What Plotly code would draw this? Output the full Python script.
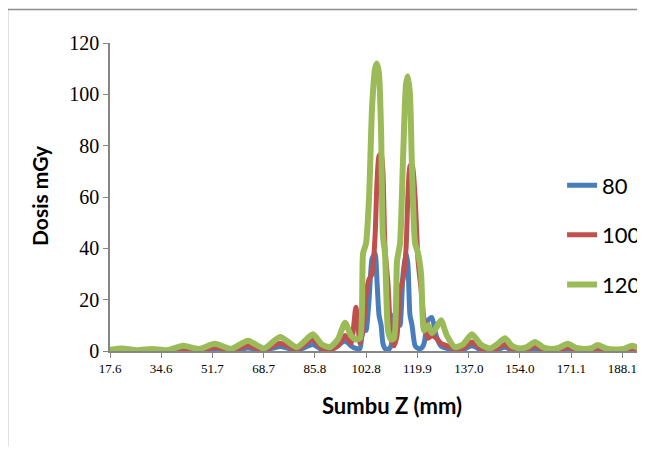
import plotly.graph_objects as go

# Sumbu Z positions (mm)
z_mm = [17.6, 21.6, 26.6, 31.6, 36.6, 41.9, 47.2, 52.5, 57.9, 63.5, 68.8, 74.2, 79.8, 85.1,
        88.1, 90.8, 93.4, 95.8, 97.8, 99.4, 100.8, 101.8, 102.8, 103.8, 104.8, 105.8, 106.4,
        107.1, 107.8, 108.4, 109.1, 110.1, 111.1, 112.1, 113.1, 114.1, 115.1, 116.1, 116.7,
        117.4, 118.1, 119.1, 120.1, 121.1, 122.1, 123.4, 124.7, 126.1, 127.7, 129.7, 132.4,
        135.0, 138.0, 141.0, 144.0, 146.3, 149.0, 151.3, 154.0, 156.3, 159.0, 161.6, 164.3,
        166.9, 169.9, 172.6, 175.3, 177.6, 179.9, 182.6, 185.6, 188.6, 191.3, 193.9, 195.6]

dose_80 = [0.1, 0.2, 0.0, 0.2, 0.0, 0.4, 0.1, 0.8, 0.1, 1.2, 0.2, 1.8, 0.3, 2.5,
           0.5, 0.3, 2.0, 4.0, 2.0, 1.0, 1.0, 13, 8, 20, 36, 38, 28,
           14, 10, 3, 1.0, 0.5, 2, 14, 15, 10, 30, 38, 34,
           14, 10, 2, 1, 1, 3, 12, 13, 6, 2, 1, 0.3,
           0.5, 2.0, 0.5, 0.2, 0.5, 1.5, 0.4, 0.2, 0.3, 1.0, 0.3, 0.1,
           0.2, 0.8, 0.2, 0.1, 0.2, 0.6, 0.2, 0.1, 0.1, 0.4, 0.2, 0.1]

dose_100 = [0.2, 0.5, 0.1, 0.4, 0.1, 0.8, 0.2, 1.5, 0.3, 2.0, 0.4, 3.0, 0.6, 4.5,
            1.0, 0.5, 2.0, 6, 3, 17, 3, 8, 22, 28, 30, 45, 65,
            76, 77, 70, 40, 26, 6, 2, 6, 24, 28, 40, 60,
            72, 73, 60, 35, 24, 12, 5, 6, 5, 3, 2, 0.8,
            1.0, 3.5, 1.0, 0.4, 1.0, 2.5, 0.8, 0.4, 0.6, 2.0, 0.6, 0.3,
            0.5, 1.5, 0.5, 0.3, 0.4, 1.0, 0.4, 0.2, 0.3, 0.8, 0.4, 0.3]

dose_120 = [0.5, 1.0, 0.3, 0.8, 0.3, 2.0, 0.8, 2.8, 0.8, 4.0, 1.0, 5.5, 1.5, 6.5,
            2.5, 1.5, 4.5, 11, 6, 4.5, 5, 38, 42, 60, 95, 110, 112,
            108, 85, 45, 38, 8, 4.5, 5, 35, 42, 75, 104, 107,
            100, 70, 42, 38, 30, 8, 10, 7, 9, 12, 6, 1.5,
            2.5, 6.5, 2.5, 1.0, 2.5, 5.0, 2.0, 1.0, 1.5, 3.5, 1.5, 0.8,
            1.2, 2.8, 1.2, 0.8, 1.0, 2.3, 1.0, 0.6, 0.8, 2.0, 1.0, 0.8]

series_names = ["80", "100", "120"]
series_colors = ["#4A7EBB", "#C0504D", "#9BBB59"]
series_widths = [5, 5, 6]

x_ticks = [17.6, 34.6, 51.7, 68.7, 85.8, 102.8, 119.9, 137.0, 154.0, 171.1, 188.1]
x_tick_labels = ["17.6", "34.6", "51.7", "68.7", "85.8", "102.8", "119.9", "137.0", "154.0", "171.1", "188.1"]
y_ticks = [0, 20, 40, 60, 80, 100, 120]

fig = go.Figure()
for name, vals, col, w in zip(series_names, [dose_80, dose_100, dose_120], series_colors, series_widths):
    fig.add_trace(go.Scatter(
        x=z_mm, y=vals, name=name, mode="lines", legendgroup=name,
        line=dict(color=col, width=w, shape="spline", smoothing=0.6),
    ))

axis_col = "#868686"
fig.update_layout(
    width=637, height=438,
    margin=dict(l=102, r=0, t=35, b=95, autoexpand=False),
    paper_bgcolor="white", plot_bgcolor="white",
    showlegend=True,
    legend=dict(
        x=0.845, xanchor="left", y=0.377, yanchor="middle",
        font=dict(family="Lato, Noto Sans, sans-serif", size=22, color="black"),
        tracegroupgap=18, bgcolor="rgba(0,0,0,0)", itemwidth=30,
    ),
    xaxis=dict(
        range=[17.6, 195.6], tickmode="array", tickvals=x_ticks, ticktext=x_tick_labels,
        showline=True, linecolor=axis_col, linewidth=1.5, ticks="outside", ticklen=5,
        tickcolor=axis_col, showgrid=False, zeroline=False,
        tickfont=dict(family="Liberation Serif, Times New Roman, serif", size=13, color="black"),
    ),
    yaxis=dict(
        range=[0, 120], tickmode="array", tickvals=y_ticks,
        showline=True, linecolor=axis_col, linewidth=1.5, ticks="outside", ticklen=5,
        tickcolor=axis_col, showgrid=False, zeroline=False,
        tickfont=dict(family="Liberation Serif, Times New Roman, serif", size=20, color="black"),
    ),
    annotations=[
        dict(text="<b>Sumbu Z (mm)</b>", xref="paper", yref="paper",
             x=(392 - 110) / 535, y=(351 - 405) / 308, xanchor="center", yanchor="middle",
             showarrow=False, font=dict(family="Lato, Noto Sans, sans-serif", size=22, color="black")),
        dict(text="<b>Dosis mGy</b>", xref="paper", yref="paper", textangle=-90,
             x=(39 - 110) / 535, y=(351 - 196) / 308, xanchor="center", yanchor="middle",
             showarrow=False, font=dict(family="Lato, Noto Sans, sans-serif", size=21, color="black")),
    ],
    shapes=[
        dict(type="line", xref="paper", yref="paper", x0=(7.5 - 110) / 535, x1=(7.5 - 110) / 535,
             y0=(351 - 460) / 308, y1=(351 - 9.5) / 308, line=dict(color="#8C8C8C", width=1.5)),
        dict(type="line", xref="paper", yref="paper", x0=(7.5 - 110) / 535, x1=1.0,
             y0=(351 - 9.5) / 308, y1=(351 - 9.5) / 308, line=dict(color="#8C8C8C", width=1.5)),
    ],
)

fig.write_html("out.html")
